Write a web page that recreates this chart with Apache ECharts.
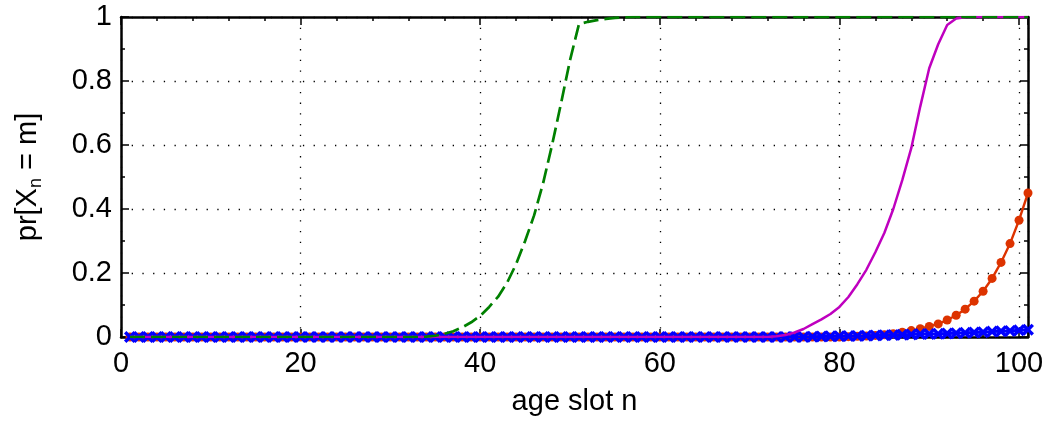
<!DOCTYPE html>
<html>
<head>
<meta charset="utf-8">
<script src="https://cdn.jsdelivr.net/npm/echarts@6/dist/echarts.min.js"></script>
<style>
html,body{margin:0;padding:0;background:#fff;}
#chart{width:1048px;height:421px;}
</style>
</head>
<body>
<div id="chart"></div>
<script>
// age slots n
var ages = [1,2,3,4,5,6,7,8,9,10,11,12,13,14,15,16,17,18,19,20,21,22,23,24,25,26,27,28,29,30,
  31,32,33,34,35,36,37,38,39,40,41,42,43,44,45,46,47,48,49,50,51,52,53,54,55,56,57,58,59,60,
  61,62,63,64,65,66,67,68,69,70,71,72,73,74,75,76,77,78,79,80,81,82,83,84,85,86,87,88,89,90,
  91,92,93,94,95,96,97,98,99,100,101];

// green dashed
var greenVals = [0,0,0,0,0,0,0,0,0,0,0,0,0,0,0,0,0,0,0,0,0,0,0,0,0,0,0,0,0,0,0,0,0,
  0.001,0.004,0.01,0.018,0.03,0.046,0.066,0.094,0.126,0.17,0.228,0.30,0.38,0.48,0.60,0.73,0.865,0.978,
  0.985,0.99,0.994,0.997,0.999,
  1,1,1,1,1,1,1,1,1,1,1,1,1,1,1,1,1,1,1,1,1,1,1,1,1,1,1,1,1,1,1,1,1,1,1,1,1,1,1,1,1,1,1,1,1];

// magenta solid
var magentaVals = [0,0,0,0,0,0,0,0,0,0,0,0,0,0,0,0,0,0,0,0,0,0,0,0,0,0,0,0,0,0,0,0,0,0,0,0,
  0,0,0,0,0,0,0,0,0,0,0,0,0,0,0,0,0,0,0,0,0,0,0,0,0,0,0,0,0,0,0,0,0,0,0,0,
  0.002,0.006,0.014,0.025,0.04,0.055,0.072,0.094,0.125,0.165,0.21,0.265,0.325,0.40,0.49,0.59,0.72,0.84,
  0.915,0.975,0.995,0.999,
  1,1,1,1,1,1,1];

// red dots
var redVals = [0,0,0,0,0,0,0,0,0,0,0,0,0,0,0,0,0,0,0,0,0,0,0,0,0,0,0,0,0,0,0,0,0,0,0,0,0,0,0,0,
  0,0,0,0,0,0,0,0,0,0,0,0,0,0,0,0,0,0,0,0,0,0,0,0,0,0,0,0,0,0,0,0,0,0,0,0,0,0,0,0,
  0.001,0.002,0.003,0.005,0.007,0.010,0.015,0.020,0.026,0.033,0.041,0.053,0.068,0.087,0.112,0.143,
  0.183,0.233,0.292,0.365,0.450];

// blue crosses
var blueVals = [0,0,0,0,0,0,0,0,0,0,0,0,0,0,0,0,0,0,0,0,0,0,0,0,0,0,0,0,0,0,0,0,0,0,0,0,0,
  0,0,0,0,0,0,0,0,0,0,0,0,0,0,0,0,0,0,0,0,0,0,0,0,0,0,0,0,0,0,0,0,0,0,0,0,0,0,0,
  0.001,0.0015,0.002,0.0025,0.003,0.0035,0.004,0.005,0.0055,0.006,0.007,0.008,0.009,0.0095,0.010,
  0.011,0.012,0.013,0.014,0.015,0.017,0.018,0.019,0.021,0.023,0.025,0.028];

var xTickLabels = ['0','20','40','60','80','100'];
var yTickLabels = ['0','0.2','0.4','0.6','0.8','1'];

function pairs(v){ return ages.map(function(a,i){ return [a, v[i]]; }); }

var FONT = 'Liberation Sans';
var FS = 29;
var gridDots = {show:true, lineStyle:{color:'#000', width:1.3, type:[1.3,9.4]}};

var chart = echarts.init(document.getElementById('chart'), null, {renderer:'canvas'});
var crossPath = 'path://M0,2L2,0L5,3L8,0L10,2L7,5L10,8L8,10L5,7L2,10L0,8L3,5Z';

function tickSet(split){
  return {
    axisLine:{show:true, onZero:false, lineStyle:{color:'#000', width:2.5}},
    axisTick:{show:true, inside:true, length:8, lineStyle:{color:'#000', width:1.5}},
    minorTick:{show:true, splitNumber:split, length:4, lineStyle:{color:'#000', width:1.5}}
  };
}

chart.setOption({
  animation:false,
  backgroundColor:'#fff',
  grid:{left:121, right:20, top:17, bottom:82, containLabel:false},
  xAxis:[Object.assign({
    type:'value', min:0, max:101, interval:20,
    name:'age slot n', nameLocation:'middle', nameGap:50,
    nameTextStyle:{fontFamily:FONT, fontSize:FS, color:'#000'},
    axisLabel:{fontFamily:FONT, fontSize:FS, color:'#000', margin:12,
      formatter:function(v){ var s=String(v); return xTickLabels.indexOf(s)>=0 ? s : ''; }},
    splitLine:gridDots
  }, tickSet(5)), Object.assign({
    type:'value', min:0, max:101, interval:20, position:'top',
    axisLabel:{show:false}, splitLine:{show:false}
  }, tickSet(5))],
  yAxis:[Object.assign({
    type:'value', min:0, max:1, interval:0.2,
    name:'pr[X{sub|n} = m]', nameLocation:'middle', nameGap:76, nameRotate:90,
    nameTextStyle:{fontFamily:FONT, fontSize:FS, color:'#000',
      rich:{sub:{fontFamily:FONT, fontSize:18, color:'#000', verticalAlign:'bottom', padding:[16,0,0,0]}}},
    axisLabel:{fontFamily:FONT, fontSize:FS, color:'#000', margin:9,
      formatter:function(v){ var s=String(Math.round(v*10)/10); return yTickLabels.indexOf(s)>=0 ? s : ''; }},
    splitLine:gridDots
  }, tickSet(2)), Object.assign({
    type:'value', min:0, max:1, interval:0.2, position:'right',
    axisLabel:{show:false}, splitLine:{show:false}
  }, tickSet(2))],
  series:[
    {type:'line', name:'red', data:pairs(redVals), z:2,
     symbol:'circle', symbolSize:9, showAllSymbol:true,
     lineStyle:{color:'#dd3300', width:2.4}, itemStyle:{color:'#dd3300'}},
    {type:'line', name:'blue', data:pairs(blueVals), z:3,
     symbol:crossPath, symbolSize:[12,12], showAllSymbol:true,
     lineStyle:{color:'#0000ff', width:3}, itemStyle:{color:'#0000ff'}},
    {type:'line', name:'magenta', data:pairs(magentaVals), z:4,
     symbol:'none', lineStyle:{color:'#bf00bf', width:2.5}},
    {type:'line', name:'green', data:pairs(greenVals), z:5,
     symbol:'none', lineStyle:{color:'#008000', width:2.7, type:[15,6]}}
  ]
});
</script>
</body>
</html>
